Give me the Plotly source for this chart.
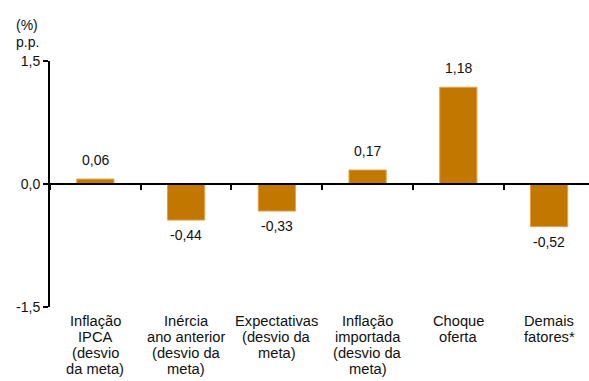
import plotly.graph_objects as go

# Data
categories = ["Inflação IPCA", "Inércia ano anterior", "Expectativas", "Inflação importada",
              "Choque oferta", "Demais fatores*"]
label_lines = [
    ["Inflação", "IPCA", "(desvio", "da meta)"],
    ["Inércia", "ano anterior", "(desvio da", "meta)"],
    ["Expectativas", "(desvio da", "meta)"],
    ["Inflação", "importada", "(desvio da", "meta)"],
    ["Choque", "oferta"],
    ["Demais", "fatores*"],
]
values = [0.06, -0.44, -0.33, 0.17, 1.18, -0.52]
y_tickvals = [-1.5, 0.0, 1.5]
y_ticktext = ["-1,5", "0,0", "1,5"]

FONT = "Liberation Sans, Arial, sans-serif"
BAR = "#C27700"
TXT = "#111111"

value_text = [f"{v:.2f}".replace(".", ",") for v in values]

fig = go.Figure()
fig.add_trace(go.Bar(
    x=categories, y=values, width=0.41,
    marker=dict(color=BAR, line=dict(color="#E2A24C", width=1)),
    showlegend=False, hoverinfo="skip",
))

annotations = []
for cat, v, t in zip(categories, values, value_text):
    annotations.append(dict(
        x=cat, xref="x", y=v, yref="y", xanchor="center", yanchor="middle",
        yshift=19 if v > 0 else -15, text=t, showarrow=False,
        font=dict(family=FONT, size=14, color=TXT),
    ))
for cat, lines in zip(categories, label_lines):
    for i, ln in enumerate(lines):
        annotations.append(dict(
            x=cat, xref="x", y=0, yref="paper", yanchor="top", xanchor="center",
            yshift=-4 - 16 * i, text=ln, showarrow=False,
            font=dict(family=FONT, size=14.7, color=TXT),
        ))
for txt, ys in [("(%)", 36), ("p.p.", 19)]:
    annotations.append(dict(
        x=0, xref="paper", y=1, yref="paper", xanchor="left", yanchor="middle",
        xshift=-36, yshift=ys, text=txt, showarrow=False,
        font=dict(family=FONT, size=14, color=TXT),
    ))

fig.update_layout(
    width=589, height=381,
    margin=dict(l=50, r=0, t=61, b=74),
    paper_bgcolor="white", plot_bgcolor="white",
    font=dict(family=FONT, size=14, color=TXT),
    bargap=0.59,
    xaxis=dict(
        type="category", categoryorder="array", categoryarray=categories,
        range=[-0.5, 5.44], anchor="free", position=0.5,
        showline=True, linecolor="black", linewidth=2,
        ticks="outside", tickson="boundaries", ticklen=5, tickwidth=2, tickcolor="black",
        showticklabels=False, showgrid=False, zeroline=False,
    ),
    yaxis=dict(
        range=[-1.5, 1.5], tickvals=y_tickvals, ticktext=y_ticktext,
        showline=True, linecolor="black", linewidth=2,
        ticks="outside", ticklen=5, tickwidth=2, tickcolor="black",
        showgrid=False, zeroline=False,
        tickfont=dict(family=FONT, size=14, color=TXT),
    ),
    annotations=annotations,
)

fig.write_html("out.html", config={"displayModeBar": False})
